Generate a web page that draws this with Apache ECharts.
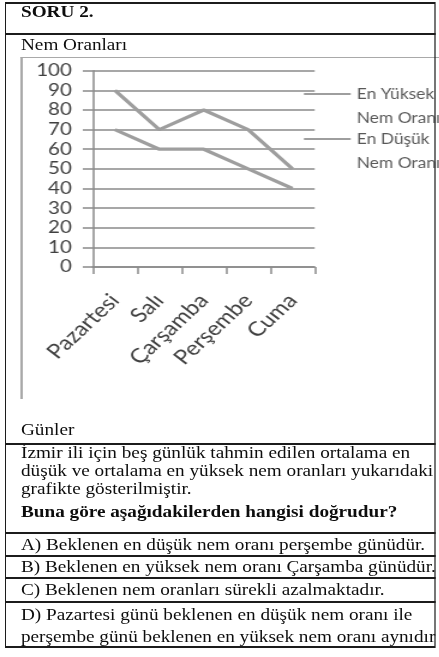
<!DOCTYPE html>
<html>
<head>
<meta charset="utf-8">
<script src="https://cdn.jsdelivr.net/npm/echarts@6/dist/echarts.min.js"></script>
<style>
  html, body { margin: 0; padding: 0; background: #fff; width: 439px; height: 657px; overflow: hidden; }
  /* the sheet is laid out on a 366px grid and widened to the page */
  #sheet { position: absolute; left: 0; top: 0; width: 366px; height: 657px; overflow: hidden;
           transform: scaleX(1.2); transform-origin: 0 0; }
  .t { position: absolute; left: 17.5px; font-family: "Liberation Serif", "Times New Roman", serif;
       font-size: 16px; line-height: 20px; height: 20px; white-space: nowrap; color: #0d0d0d; }
  .b { font-weight: bold; }
  .rule { position: absolute; left: 4.2px; width: 359.3px; height: 2px; background: #1c1c1c; }
  #frame { position: absolute; left: 4.2px; top: 2px; width: 359.3px; height: 646px; box-sizing: border-box;
           border-style: solid; border-color: #1c1c1c; border-width: 2px 1.7px; }
  #chartTop { position: absolute; left: 17.25px; top: 56.5px; width: 349px; height: 1.5px; background: #a9a9a9; }
  #chartLeft { position: absolute; left: 17.25px; top: 56.5px; width: 1.3px; height: 342px; background: #a9a9a9; }
  #chart { position: absolute; left: 17.25px; top: 57px; width: 349px; height: 343px; }
</style>
</head>
<body>
<div id="sheet">
  <div id="chart"></div>
  <div id="chartTop"></div>
  <div id="chartLeft"></div>

  <div class="t b" style="top:1.5px">SORU 2.</div>
  <div class="t" style="top:34.5px">Nem Oranları</div>
  <div class="t" style="top:419.5px">Günler</div>
  <div class="t" style="top:442.5px">İzmir ili için beş günlük tahmin edilen ortalama en</div>
  <div class="t" style="top:461px">düşük ve ortalama en yüksek nem oranları yukarıdaki</div>
  <div class="t" style="top:478.5px">grafikte gösterilmiştir.</div>
  <div class="t b" style="top:501.5px">Buna göre aşağıdakilerden hangisi doğrudur?</div>
  <div class="t" style="top:535px">A) Beklenen en düşük nem oranı perşembe günüdür.</div>
  <div class="t" style="top:557px">B) Beklenen en yüksek nem oranı Çarşamba günüdür.</div>
  <div class="t" style="top:579.5px">C) Beklenen nem oranları sürekli azalmaktadır.</div>
  <div class="t" style="top:604.5px">D) Pazartesi günü beklenen en düşük nem oranı ile</div>
  <div class="t" style="top:626.5px">perşembe günü beklenen en yüksek nem oranı aynıdır</div>

  <div id="frame"></div>
  <div class="rule" style="top:33px"></div>
  <div class="rule" style="top:443px"></div>
  <div class="rule" style="top:532px"></div>
  <div class="rule" style="top:555px"></div>
  <div class="rule" style="top:577px"></div>
  <div class="rule" style="top:601px"></div>
</div>

<script>
// Forecast humidity for five days (%)
const days = ['Pazartesi', 'Salı', 'Çarşamba', 'Perşembe', 'Cuma'];
const highName = 'En Yüksek Nem Oranı';
const lowName = 'En Düşük Nem Oranı';
const highValues = [90, 70, 80, 70, 50];
const lowValues = [70, 60, 60, 50, 40];
const yMin = 0;
const yMax = 100;
const yStep = 10;

const sans = 'Lato, "Open Sans", sans-serif';
const gridGray = '#8a8a8a';
const lineGray = '#9e9e9e';

// One legend per series: the key line sits beside the first of two text lines
// (a blank leading line keeps the vertically centred block aligned that way).
function legendFor(name, top) {
  return {
    data: [name],
    left: 235.25,
    top: top,
    padding: 0,
    itemWidth: 39,
    itemHeight: 14,
    itemGap: 0,
    selectedMode: false,
    itemStyle: { opacity: 0 },
    formatter: n => ' \n' + n.replace(' Nem', '\nNem'),
    textStyle: { fontFamily: sans, fontSize: 14.5, color: '#595959', lineHeight: 24 }
  };
}

const chart = echarts.init(document.getElementById('chart'), null, { renderer: 'canvas' });
chart.setOption({
  animation: false,
  grid: { left: 60.25, top: 13.7, width: 185, height: 196.3 },
  legend: [legendFor(highName, 1), legendFor(lowName, 46)],
  xAxis: {
    type: 'category',
    data: days,
    boundaryGap: true,
    axisLine: { lineStyle: { color: gridGray, width: 1.5 } },
    axisTick: { show: true, length: 7, lineStyle: { color: gridGray, width: 1.5 } },
    axisLabel: { interval: 0, rotate: 48, margin: 30, fontFamily: sans, fontSize: 20, color: '#404040' }
  },
  yAxis: {
    type: 'value',
    min: yMin,
    max: yMax,
    interval: yStep,
    axisLine: { show: true, lineStyle: { color: gridGray, width: 1.5 } },
    axisTick: { show: true, length: 8.3, lineStyle: { color: gridGray, width: 1.5 } },
    splitLine: { show: true, lineStyle: { color: gridGray, width: 1.5 } },
    axisLabel: { margin: 17.5, fontFamily: sans, fontSize: 17, color: '#404040' }
  },
  series: [
    { name: highName, type: 'line', data: highValues, symbol: 'none',
      lineStyle: { color: lineGray, width: 3.3 }, itemStyle: { color: lineGray } },
    { name: lowName, type: 'line', data: lowValues, symbol: 'none',
      lineStyle: { color: lineGray, width: 3.3 }, itemStyle: { color: lineGray } }
  ]
});
</script>
</body>
</html>
